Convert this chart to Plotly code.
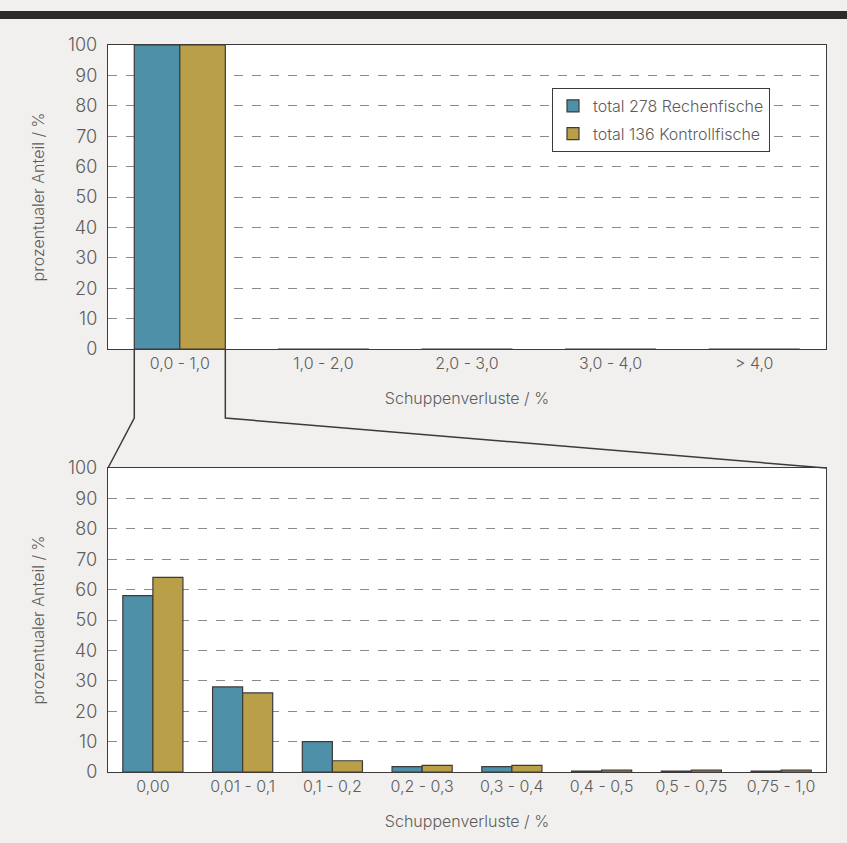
import plotly.graph_objects as go

# ---- data ----
top_categories = ["0,0 - 1,0", "1,0 - 2,0", "2,0 - 3,0", "3,0 - 4,0", "> 4,0"]
top_rechen = [100, 0, 0, 0, 0]
top_kontroll = [100, 0, 0, 0, 0]

bottom_categories = ["0,00", "0,01 - 0,1", "0,1 - 0,2", "0,2 - 0,3", "0,3 - 0,4",
                     "0,4 - 0,5", "0,5 - 0,75", "0,75 - 1,0"]
bottom_rechen = [58, 28, 10, 1.8, 1.8, 0.3, 0.3, 0.3]
bottom_kontroll = [64, 26, 3.7, 2.2, 2.2, 0.6, 0.6, 0.6]

y_ticks = [0, 10, 20, 30, 40, 50, 60, 70, 80, 90, 100]
name_rechen = "total 278 Rechenfische"
name_kontroll = "total 136 Kontrollfische"
y_title = "prozentualer Anteil / %"
x_title = "Schuppenverluste / %"

# ---- style ----
W, H = 847, 843
BLUE = "#4d90a8"
GOLD = "#b99f48"
EDGE = "#3d3a3a"
TXT = "#5e5c5c"
BG = "#f1f0ee"
FONT = "Inter, Lato, sans-serif"
WEIGHT = 300

x_dom = [108 / W, 826 / W]
top_dom = [1 - 349 / H, 1 - 45 / H]
bot_dom = [1 - 772 / H, 1 - 468 / H]
top_gap = 0.366

fig = go.Figure()
fig.add_trace(go.Bar(x=top_categories, y=top_rechen, name=name_rechen,
                     marker=dict(color=BLUE, line=dict(color=EDGE, width=1.2)),
                     xaxis="x", yaxis="y", legendgroup="a"))
fig.add_trace(go.Bar(x=top_categories, y=top_kontroll, name=name_kontroll,
                     marker=dict(color=GOLD, line=dict(color=EDGE, width=1.2)),
                     xaxis="x", yaxis="y", legendgroup="b"))
fig.add_trace(go.Bar(x=bottom_categories, y=bottom_rechen, name=name_rechen,
                     marker=dict(color=BLUE, line=dict(color=EDGE, width=1.2)),
                     xaxis="x2", yaxis="y2", showlegend=False, legendgroup="a",
                     width=0.335, offset=-0.335))
fig.add_trace(go.Bar(x=bottom_categories, y=bottom_kontroll, name=name_kontroll,
                     marker=dict(color=GOLD, line=dict(color=EDGE, width=1.2)),
                     xaxis="x2", yaxis="y2", showlegend=False, legendgroup="b",
                     width=0.335, offset=0.0))

tfont = dict(family=FONT, size=16, color=TXT, weight=WEIGHT)
ax_common = dict(showline=True, linecolor=EDGE, linewidth=1.3, mirror=True,
                 ticks="", automargin=False, tickfont=tfont)
y_common = dict(range=[0, 100], tickvals=y_ticks, showgrid=True, gridcolor="#8a8a8a",
                griddash="dash", gridwidth=1, zeroline=False, automargin=False,
                showline=True, linecolor=EDGE, linewidth=1.3, mirror=True, ticks="",
                ticklabelstandoff=6,
                tickfont=dict(family=FONT, size=18, color=TXT, weight=WEIGHT),
                title=dict(text=y_title, font=dict(family=FONT, size=16, color=TXT, weight=WEIGHT),
                           standoff=19))

fig.update_layout(
    width=W, height=H,
    margin=dict(l=0, r=0, t=0, b=0),
    paper_bgcolor=BG, plot_bgcolor="white",
    barmode="group", bargap=top_gap, bargroupgap=0,
    showlegend=True,
    legend=dict(x=552 / W, y=1 - 88 / H, xanchor="left", yanchor="top",
                bgcolor="white", bordercolor=EDGE, borderwidth=1,
                font=dict(family=FONT, size=16, color=TXT, weight=WEIGHT),
                itemwidth=30, tracegroupgap=4),
    xaxis=dict(domain=x_dom, anchor="y", **ax_common,
               title=dict(text=x_title, standoff=20, font=tfont)),
    yaxis=dict(domain=top_dom, anchor="x", **y_common),
    xaxis2=dict(domain=x_dom, anchor="y2", **ax_common,
                title=dict(text=x_title, standoff=20, font=tfont)),
    yaxis2=dict(domain=bot_dom, anchor="x2", **y_common),
)

# connector from top first category to bottom chart (zoom indicator)
n_top = len(top_categories)
cat_w = (x_dom[1] - x_dom[0]) / n_top
half = (1 - top_gap) / 2
x_left = x_dom[0] + (0.5 - half) * cat_w
x_right = x_dom[0] + (0.5 + half) * cat_w
y_top_base = top_dom[0]
y_mid = 1 - 418 / H
y_bot_top = bot_dom[1]
line_style = dict(color=EDGE, width=1.5)
fig.add_shape(type="path", xref="paper", yref="paper",
              path=f"M {x_left},{y_top_base} L {x_left},{y_mid} L {x_dom[0]},{y_bot_top}",
              line=line_style)
fig.add_shape(type="path", xref="paper", yref="paper",
              path=f"M {x_right},{y_top_base} L {x_right},{y_mid} L {x_dom[1]},{y_bot_top}",
              line=line_style)
# dark band at top
fig.add_shape(type="rect", xref="paper", yref="paper", x0=0, x1=1,
              y0=1 - 19 / H, y1=1 - 11 / H, fillcolor="#2f2b2b", line=dict(width=0))

fig.write_html("out.html")
